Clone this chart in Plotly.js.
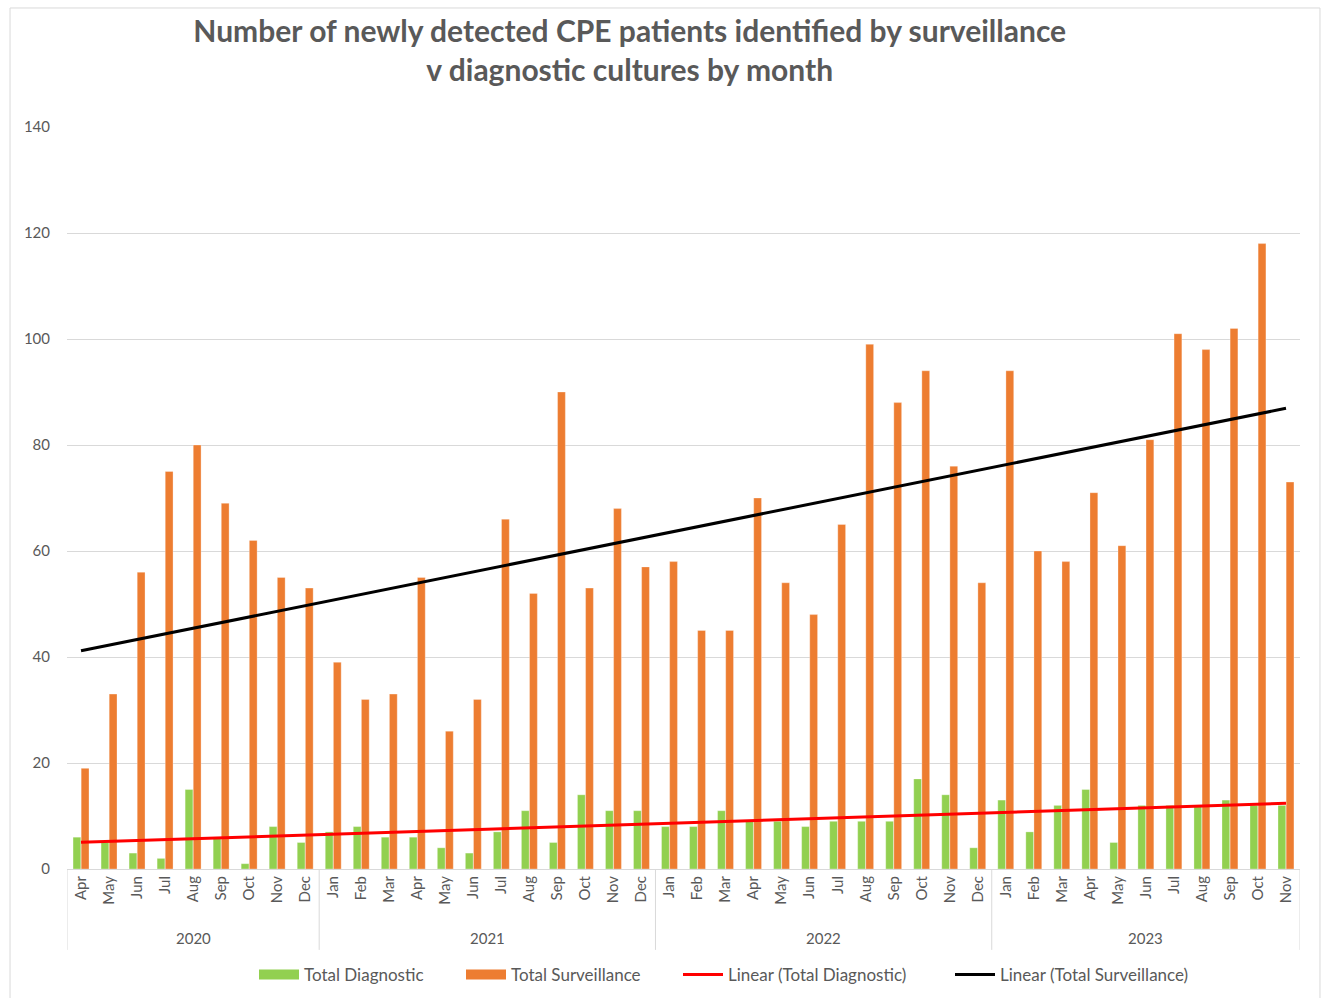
<!DOCTYPE html>
<html>
<head>
<meta charset="utf-8">
<script src="https://cdn.plot.ly/plotly-3.0.1.min.js"></script>
<style>html,body{margin:0;padding:0;background:#fff;}#chart{width:1323px;height:998px;}</style>
</head>
<body>
<div id="chart"></div>
<script>
const years = ["2020","2020","2020","2020","2020","2020","2020","2020","2020",
  "2021","2021","2021","2021","2021","2021","2021","2021","2021","2021","2021","2021",
  "2022","2022","2022","2022","2022","2022","2022","2022","2022","2022","2022","2022",
  "2023","2023","2023","2023","2023","2023","2023","2023","2023","2023","2023"];
const months = ["Apr","May","Jun","Jul","Aug","Sep","Oct","Nov","Dec",
  "Jan","Feb","Mar","Apr","May","Jun","Jul","Aug","Sep","Oct","Nov","Dec",
  "Jan","Feb","Mar","Apr","May","Jun","Jul","Aug","Sep","Oct","Nov","Dec",
  "Jan","Feb","Mar","Apr","May","Jun","Jul","Aug","Sep","Oct","Nov"];
const totalDiagnostic = [6,5,3,2,15,6,1,8,5,
  7,8,6,6,4,3,7,11,5,14,11,11,
  8,8,11,9,9,8,9,9,9,17,14,4,
  13,7,12,15,5,12,12,12,13,12,12];
const totalSurveillance = [19,33,56,75,80,69,62,55,53,
  39,32,33,55,26,32,66,52,90,53,68,57,
  58,45,45,70,54,48,65,99,88,94,76,54,
  94,60,58,71,61,81,101,98,102,118,73];

function linearFit(vals){
  const n = vals.length;
  let sx=0, sy=0, sxy=0, sxx=0;
  for(let i=0;i<n;i++){const x=i+1; sx+=x; sy+=vals[i]; sxy+=x*vals[i]; sxx+=x*x;}
  const m=(n*sxy-sx*sy)/(n*sxx-sx*sx), b=(sy-m*sx)/n;
  return vals.map((_,i)=>b+m*(i+1));
}
const idx = months.map((_,i)=>i);
const font = "Lato, 'Liberation Sans', sans-serif";
const grey = "#595959";
const divColor = "#d9d9d9";

// plot area: 67..1300 x, 127..869 y  (height 742)
const annotations = [];
const shapes = [];
let start = 0;
for(let i=1;i<=years.length;i++){
  if(i===years.length || years[i]!==years[start]){
    annotations.push({x:(start+i-1)/2, xref:"x", y:-0.093, yref:"paper", text:years[start],
      showarrow:false, font:{family:font, size:15, color:grey}, yanchor:"middle"});
    shapes.push({type:"line", xref:"x", yref:"paper", x0:start-0.5, x1:start-0.5, y0:0, y1:-0.109,
      line:{color:divColor, width:1}});
    start = i;
  }
}
shapes.push({type:"line", xref:"x", yref:"paper", x0:years.length-0.5, x1:years.length-0.5, y0:0, y1:-0.109,
  line:{color:divColor, width:1}});
shapes.push({type:"rect", xref:"paper", yref:"paper", x0:-0.0462, x1:1.0162, y0:-0.19, y1:1.1604,
  line:{color:divColor, width:1}, fillcolor:"rgba(0,0,0,0)", layer:"below"});

const data = [
  {type:"bar", name:"Total Diagnostic", x:idx, y:totalDiagnostic, showlegend:false,
   marker:{color:"#92D050", line:{color:"rgba(255,255,255,0.6)", width:0.5}}},
  {type:"bar", name:"Total Surveillance", x:idx, y:totalSurveillance, showlegend:false,
   marker:{color:"#ED7D31", line:{color:"rgba(255,255,255,0.6)", width:0.5}}},
  {type:"scatter", mode:"lines", name:"Total Diagnostic", x:[null], y:[null], legend:"legend",
   line:{color:"#92D050", width:10}, hoverinfo:"skip"},
  {type:"scatter", mode:"lines", name:"Total Surveillance", x:[null], y:[null], legend:"legend2",
   line:{color:"#ED7D31", width:10}, hoverinfo:"skip"},
  {type:"scatter", mode:"lines", name:"Linear (Total Diagnostic)", x:idx, y:linearFit(totalDiagnostic), legend:"legend3",
   line:{color:"#FF0000", width:3}},
  {type:"scatter", mode:"lines", name:"Linear (Total Surveillance)", x:idx, y:linearFit(totalSurveillance), legend:"legend4",
   line:{color:"#000000", width:3}}
];

function leg(px){
  return {orientation:"h", xref:"container", yref:"container", x:px/1323, xanchor:"left",
    y:(998-975)/998, yanchor:"middle", font:{family:font, size:17, color:grey}, itemwidth:40,
    bgcolor:"rgba(0,0,0,0)"};
}

const layout = {
  width:1323, height:998,
  margin:{l:67, r:23, t:127, b:129},
  paper_bgcolor:"#fff", plot_bgcolor:"#fff",
  font:{family:font, color:grey, size:14},
  title:{text:"<b>Number of newly detected CPE patients identified by surveillance<br>v diagnostic cultures by month</b>",
    font:{family:font, size:30, color:grey}, x:0.476, xanchor:"center", y:0.958, yanchor:"middle"},
  barmode:"group", bargap:0.42, bargroupgap:0.04,
  showlegend:true,
  legend:leg(254), legend2:leg(461), legend3:leg(678), legend4:leg(950),
  xaxis:{range:[-0.5, months.length-0.5], tickmode:"array", tickvals:idx, ticktext:months,
    tickangle:-90, tickfont:{family:font, size:15, color:grey},
    showline:true, linecolor:divColor, linewidth:1, ticks:"", automargin:false, showgrid:false, zeroline:false},
  yaxis:{range:[0,140], dtick:20, showgrid:true, gridcolor:divColor, gridwidth:1,
    zeroline:false, showline:false, tickfont:{family:font, size:15, color:grey},
    ticklabelstandoff:16, automargin:false},
  annotations:annotations,
  shapes:shapes
};
Plotly.newPlot("chart", data, layout, {displayModeBar:false});
</script>
</body>
</html>
